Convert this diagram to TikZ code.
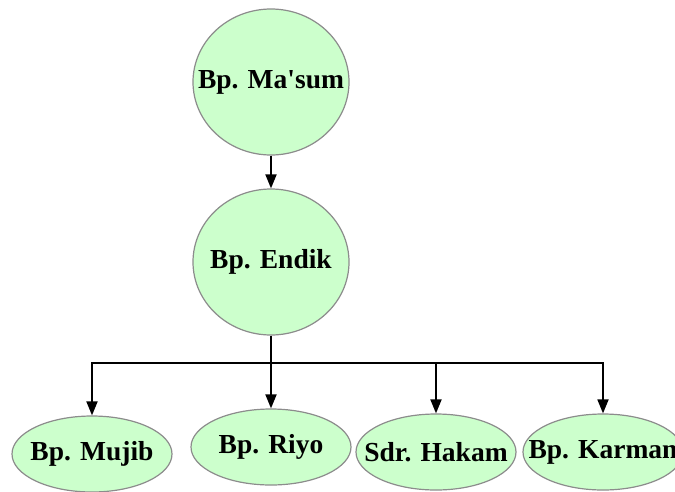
\documentclass[tikz,border=0pt]{standalone}
\usepackage{fontspec}
\setmainfont{Liberation Serif}
\usetikzlibrary{shapes.geometric,arrows.meta}
\definecolor{nodegreen}{HTML}{CCFFCC}
\definecolor{nodeline}{HTML}{8C8C8C}
% label box of zero width, so the ellipse keeps its set size
\newcommand{\nm}[1]{\makebox[0pt]{#1}}
\tikzset{
	person/.style={ellipse,draw=nodeline,fill=nodegreen,line width=1.2pt,inner sep=0pt,
		font=\fontsize{27.5}{30}\selectfont\bfseries},
	bignode/.style={person,minimum width=156pt,minimum height=146pt},
	smallnode/.style={person,minimum width=160pt,minimum height=76pt},
	link/.style={line width=1.8pt,-{Triangle[length=14pt,width=11pt]}}
}
\begin{document}
\begin{tikzpicture}[x=1pt,y=-1pt]
		\useasboundingbox (0,0) rectangle (675,491);

		\node[bignode] (masum) at (271,82) {\nm{Bp. Ma\textquotesingle sum}};
		\node[bignode] (endik) at (271,262) {\nm{Bp. Endik}};

		\node[smallnode] (mujib) at (92,454) {\nm{Bp. Mujib}};
		\node[smallnode] (riyo) at (271,447) {\nm{Bp. Riyo}};
		\node[smallnode] (hakam) at (436,452) {\nm{Sdr. Hakam}};
		\node[smallnode] (karman) at (603,452) {\nm{Bp. Karman}};

		\coordinate (bus) at (271,363);

		\draw[link] (masum) -- (endik);
		\draw[link] (endik.south) -- (riyo.north);
		\draw[link] (bus) -| (mujib.north);
		\draw[link] (bus) -| (hakam.north);
		\draw[link] (bus) -| (karman.north);
	\end{tikzpicture}
\end{document}
